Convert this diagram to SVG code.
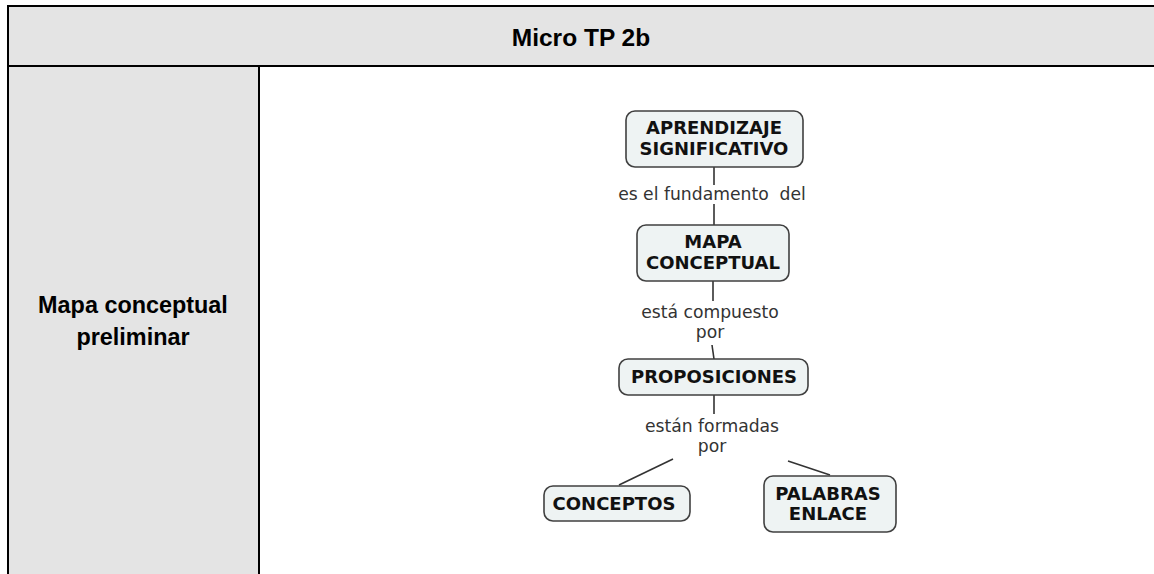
<svg xmlns="http://www.w3.org/2000/svg" width="1154" height="574" viewBox="0 0 1154 574">
<style>
.cell{fill:#e4e4e4}
.rule{stroke:#000;stroke-width:2;fill:none}
.hdr{font-family:"Liberation Sans",Arial,sans-serif;font-weight:bold;fill:#000;text-anchor:middle}
.box{fill:#eef3f3;stroke:#404040;stroke-width:1.6}
.cn{font-family:"DejaVu Sans",Verdana,sans-serif;font-weight:bold;font-size:18px;fill:#111;text-anchor:middle}
.lk{font-family:"DejaVu Sans",Verdana,sans-serif;font-size:17.2px;fill:#333;text-anchor:middle;white-space:pre}
.ln{stroke:#333;stroke-width:1.6;fill:none}
</style>
<rect width="1154" height="574" fill="#fff"/>
<g id="table">
<rect class="cell" x="8" y="6" width="1146" height="60"/>
<rect class="cell" x="8" y="66" width="251" height="508"/>
<path class="rule" d="M1154 6H8V574M8 66H1154M259 66V574"/>
<text class="hdr" x="581" y="46" font-size="24.5">Micro TP 2b</text>
<text class="hdr" x="133" y="313" font-size="23.4">Mapa conceptual</text>
<text class="hdr" x="133" y="345" font-size="23.4">preliminar</text>
</g>
<g id="connectors">
<path class="ln" d="M714 167V185M714 204V225"/>
<path class="ln" d="M713 281V301"/>
<path class="ln" d="M712 345L714 359"/>
<path class="ln" d="M714 395V414"/>
<path class="ln" d="M673 459L619 485"/>
<path class="ln" d="M788 461L830 475"/>
<text class="lk" x="712" y="200">es el fundamento  del</text>
<text class="lk" x="710" y="318">está compuesto</text>
<text class="lk" x="710" y="338">por</text>
<text class="lk" x="712" y="432">están formadas</text>
<text class="lk" x="712" y="452">por</text>
</g>
<g id="aprendizaje">
<rect class="box" x="626" y="111" width="177" height="56" rx="9"/>
<text class="cn" x="714" y="134">APRENDIZAJE</text>
<text class="cn" x="714" y="155">SIGNIFICATIVO</text>
</g>
<g id="mapa">
<rect class="box" x="637" y="225" width="152" height="56" rx="9"/>
<text class="cn" x="713" y="248">MAPA</text>
<text class="cn" x="713" y="269">CONCEPTUAL</text>
</g>
<g id="proposiciones">
<rect class="box" x="619" y="359" width="189" height="36" rx="9"/>
<text class="cn" x="714" y="383">PROPOSICIONES</text>
</g>
<g id="conceptos">
<rect class="box" x="544" y="486" width="146" height="35" rx="9"/>
<text class="cn" x="614" y="510">CONCEPTOS</text>
</g>
<g id="palabras">
<rect class="box" x="764" y="476" width="132" height="56" rx="9"/>
<text class="cn" x="828" y="500">PALABRAS</text>
<text class="cn" x="828" y="520">ENLACE</text>
</g>
</svg>
